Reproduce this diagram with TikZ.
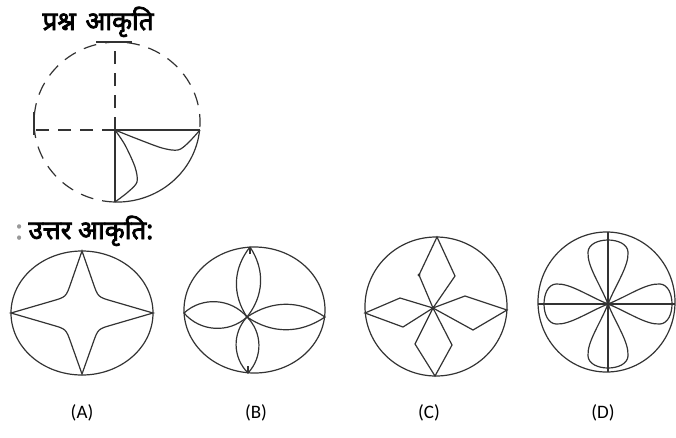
\documentclass[tikz,border=0pt]{standalone}
\usepackage{fontspec}
\usepackage{tikz}
\newfontfamily\hindi[Script=Devanagari, FakeBold=3]{Noto Sans}
\newfontfamily\choicefont{Carlito}

\tikzset{
  petal/.pic={
    \draw (0,0) .. controls (-8,-20) and (-21,-38) .. (-20,-52)
      .. controls (-19,-68) and (19,-68) .. (20,-52)
      .. controls (21,-38) and (8,-20) .. (0,0);
  }
}

\begin{document}
\begin{tikzpicture}[x=1pt, y=-1pt, line width=1.2pt, color=black!80,
  gapline/.style={dash pattern=on 13pt off 9pt},
  title/.style={font=\hindi\fontsize{26}{30}\selectfont, text=black, inner sep=0pt, anchor=base west},
  choice/.style={font=\choicefont\fontsize{19}{22}\selectfont, text=black}]
\useasboundingbox (0,0) rectangle (676,437);

% Titles
\node[title] (qtitle) at (42,30) {प्रश्न\hspace{3pt} आकृति};
\node[title] (atitle) at (15,239) {{\color{black!40}:}\hspace{6pt}उत्तर आकृति:};

% Question figure
\coordinate (qc) at (115,130);
\coordinate (qt) at (115,42);
\coordinate (ql) at (34,130);
\coordinate (qr) at (200,130);
\coordinate (qb) at (115,202);
\draw[gapline] (qb) arc[start angle=91.4, end angle=365.7, x radius=83, y radius=80];
\draw (199.6,130) arc[start angle=5.7, end angle=91.4, x radius=83, y radius=80];
\draw[gapline] (qc) -- (qt);
\draw[gapline] (qc) -- (ql);
\draw (qc) -- (qr);
\draw (qc) -- (qb);
\draw (96,42) -- (132,42);
\draw (34,112) -- (34,135);
\draw plot[smooth] coordinates {(115,130) (135,138) (162,148) (178,150) (188,143) (200,130)};
\draw plot[smooth] coordinates {(115,130) (125,145) (135,167) (137,182) (128,192) (115,202)};

% (A) star
\draw (82,313) ellipse[x radius=71, y radius=62];
\draw (82,251) -- (70.8,283.2) .. controls (66,297) .. (52.2,301) -- (11,313)
  -- (52.2,325) .. controls (66,329) .. (70.8,342.5) -- (82,374)
  -- (93.2,342.5) .. controls (98,329) .. (111.8,325) -- (153,313)
  -- (111.8,301) .. controls (98,297) .. (93.2,283.2) -- cycle;

% (B) lens petals
\draw (254.5,310) ellipse[x radius=70.5, y radius=63];
\coordinate (bc) at (247,317);
\coordinate (bt) at (250,247);
\coordinate (bb) at (248,373);
\coordinate (bl) at (184,313);
\coordinate (br) at (325,317);
\draw (bc) to[bend left=36] (bt) to[bend left=36] (bc);
\draw (bc) to[bend left=44] (bb) to[bend left=44] (bc);
\draw (bc) to[bend left=46] (bl) to[bend left=46] (bc);
\draw (bc) to[bend left=34] (br) to[bend left=34] (bc);
\draw (bt) -- ++(0,7);
\draw (bb) -- ++(0,-7);

% (C) kites
\draw (436,306.5) ellipse[x radius=71, y radius=69.5];
\coordinate (cc) at (433,308);
\draw (437,237) -- (455,276) -- (cc) -- (419,275) -- cycle;
\draw (365,313) -- (400,298) -- (cc) -- (403,327) -- cycle;
\draw (507,310) -- (465,296) -- (cc) -- (473,330) -- cycle;
\draw (435,376) -- (415,344) -- (cc) -- (452,345) -- cycle;
\fill (419,275) circle (1.6);
\fill (cc) circle (1.8);

% (D) loops on a cross
\draw (606.5,302) ellipse[x radius=68.5, y radius=70];
\coordinate (dc) at (608,304);
\coordinate (dt) at (608,232);
\coordinate (db) at (608,372);
\coordinate (dl) at (538,304);
\coordinate (dr) at (675,304);
\draw (dt) -- (db);
\draw (dl) -- (dr);
\pic at (dc) {petal};
\pic[rotate=90] at (dc) {petal};
\pic[rotate=180] at (dc) {petal};
\pic[rotate=270] at (dc) {petal};
\fill (dc) circle (2.2);
\fill (613,304) circle (1.5);

% Option labels
\node[choice] (optA) at (82,413) {(A)};
\node[choice] (optB) at (256,413) {(B)};
\node[choice] (optC) at (429,413) {(C)};
\node[choice] (optD) at (603,413) {(D)};

\end{tikzpicture}
\end{document}
